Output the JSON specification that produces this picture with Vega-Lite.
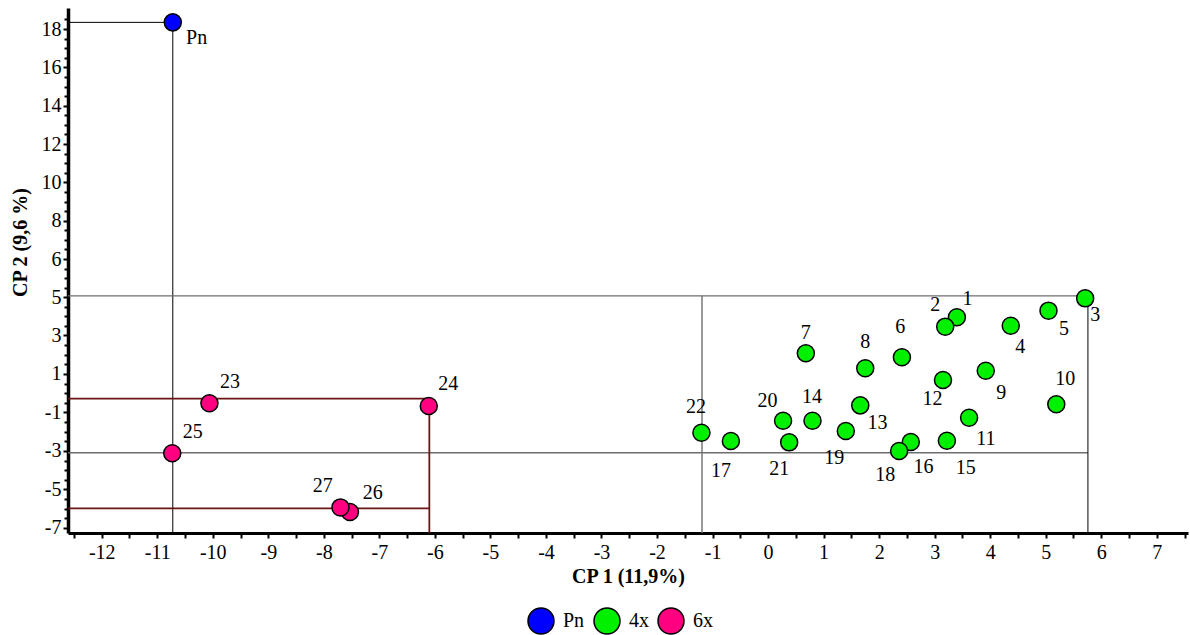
{
  "$schema": "https://vega.github.io/schema/vega-lite/v6.json",
  "width": 1120,
  "height": 525,
  "autosize": {"type": "none"},
  "padding": {"left": 68, "top": 8, "right": 2, "bottom": 102},
  "background": "white",
  "config": {
    "view": {"stroke": null},
    "font": "Liberation Serif",
    "axis": {
      "grid": false,
      "domainColor": "black",
      "tickColor": "black",
      "labelColor": "black",
      "titleColor": "black",
      "labelFont": "Liberation Serif",
      "titleFont": "Liberation Serif",
      "labelFontSize": 20,
      "titleFontSize": 20,
      "titleFontWeight": "bold",
      "labelOverlap": false,
      "labelFlush": false,
      "labelBound": false,
      "tickCount": 200
    },
    "legend": {
      "labelFont": "Liberation Serif",
      "labelFontSize": 20,
      "labelColor": "black"
    }
  },
  "datasets": {
    "genotypes": [
      {"id": "Pn", "group": "Pn", "x": -10.72, "y": 18.35, "lx": -10.29, "ly": 17.51},
      {"id": "1", "group": "4x", "x": 3.40, "y": 3.95, "lx": 3.59, "ly": 4.88},
      {"id": "2", "group": "4x", "x": 3.19, "y": 3.46, "lx": 3.01, "ly": 4.57},
      {"id": "3", "group": "4x", "x": 5.71, "y": 4.93, "lx": 5.89, "ly": 4.06},
      {"id": "4", "group": "4x", "x": 4.37, "y": 3.51, "lx": 4.54, "ly": 2.42},
      {"id": "5", "group": "4x", "x": 5.05, "y": 4.29, "lx": 5.33, "ly": 3.32},
      {"id": "6", "group": "4x", "x": 2.41, "y": 1.87, "lx": 2.38, "ly": 3.46},
      {"id": "7", "group": "4x", "x": 0.68, "y": 2.08, "lx": 0.68, "ly": 3.11},
      {"id": "8", "group": "4x", "x": 1.75, "y": 1.30, "lx": 1.75, "ly": 2.68},
      {"id": "9", "group": "4x", "x": 3.92, "y": 1.17, "lx": 4.20, "ly": 0.03},
      {"id": "10", "group": "4x", "x": 5.19, "y": -0.57, "lx": 5.35, "ly": 0.76},
      {"id": "11", "group": "4x", "x": 3.62, "y": -1.27, "lx": 3.92, "ly": -2.38},
      {"id": "12", "group": "4x", "x": 3.15, "y": 0.69, "lx": 2.96, "ly": -0.30},
      {"id": "13", "group": "4x", "x": 1.66, "y": -0.63, "lx": 1.97, "ly": -1.56},
      {"id": "14", "group": "4x", "x": 0.80, "y": -1.43, "lx": 0.79, "ly": -0.18},
      {"id": "15", "group": "4x", "x": 3.22, "y": -2.47, "lx": 3.56, "ly": -3.87},
      {"id": "16", "group": "4x", "x": 2.57, "y": -2.53, "lx": 2.80, "ly": -3.82},
      {"id": "17", "group": "4x", "x": -0.67, "y": -2.48, "lx": -0.85, "ly": -4.02},
      {"id": "18", "group": "4x", "x": 2.36, "y": -3.00, "lx": 2.11, "ly": -4.25},
      {"id": "19", "group": "4x", "x": 1.40, "y": -1.96, "lx": 1.19, "ly": -3.35},
      {"id": "20", "group": "4x", "x": 0.27, "y": -1.43, "lx": -0.01, "ly": -0.39},
      {"id": "21", "group": "4x", "x": 0.38, "y": -2.55, "lx": 0.20, "ly": -3.94},
      {"id": "22", "group": "4x", "x": -1.20, "y": -2.05, "lx": -1.30, "ly": -0.73},
      {"id": "23", "group": "6x", "x": -10.06, "y": -0.52, "lx": -9.69, "ly": 0.60},
      {"id": "24", "group": "6x", "x": -6.11, "y": -0.66, "lx": -5.76, "ly": 0.48},
      {"id": "25", "group": "6x", "x": -10.73, "y": -3.12, "lx": -10.36, "ly": -2.03},
      {"id": "26", "group": "6x", "x": -7.53, "y": -6.17, "lx": -7.12, "ly": -5.20},
      {"id": "27", "group": "6x", "x": -7.70, "y": -5.93, "lx": -8.02, "ly": -4.80}
    ],
    "guides": [
      {"x": -12.607, "x2": -10.72, "y": 18.35, "y2": 18.35, "kind": "black"},
      {"x": -10.72, "x2": -10.72, "y": 18.35, "y2": -7.26, "kind": "black"},
      {"x": -12.607, "x2": 5.8, "y": 5.03, "y2": 5.03, "kind": "grey"},
      {"x": -12.607, "x2": 5.76, "y": -3.09, "y2": -3.09, "kind": "grey"},
      {"x": -1.19, "x2": -1.19, "y": 5.03, "y2": -7.26, "kind": "grey"},
      {"x": 5.76, "x2": 5.76, "y": 5.03, "y2": -7.26, "kind": "black"},
      {"x": -12.607, "x2": -6.1, "y": -0.28, "y2": -0.28, "kind": "maroon"},
      {"x": -12.607, "x2": -6.1, "y": -5.98, "y2": -5.98, "kind": "maroon"},
      {"x": -6.1, "x2": -6.1, "y": -0.28, "y2": -7.26, "kind": "maroon"}
    ]
  },
  "layer": [
    {
      "data": {"name": "guides"},
      "mark": {"type": "rule"},
      "encoding": {
        "x": {
          "field": "x", "type": "quantitative",
          "scale": {"domain": [-12.607, 7.562], "nice": false, "zero": false},
          "axis": {
            "title": "CP 1 (11,9%)",
            "values": [-12.5, -12, -11.5, -11, -10.5, -10, -9.5, -9, -8.5, -8, -7.5, -7, -6.5, -6, -5.5, -5, -4.5, -4, -3.5, -3, -2.5, -2, -1.5, -1, -0.5, 0, 0.5, 1, 1.5, 2, 2.5, 3, 3.5, 4, 4.5, 5, 5.5, 6, 6.5, 7, 7.5],
            "tickCount": 200,
            "labelExpr": "indexof([-12, -11, -10, -9, -8, -7, -6, -5, -4, -3, -2, -1, 0, 1, 2, 3, 4, 5, 6, 7], datum.value) >= 0 ? '' + datum.value : ''",
            "domainWidth": 3,
            "tickWidth": 2,
            "tickSize": 5,
            "labelPadding": 4,
            "titlePadding": 4
          }
        },
        "x2": {"field": "x2"},
        "y": {
          "field": "y", "type": "quantitative",
          "scale": {"domain": [-7.26, 5, 6, 19.1], "range": [525, 289, 251, 0], "nice": false, "zero": false},
          "axis": {
            "title": "CP 2 (9,6 %)",
            "values": [18.5, 18, 17.5, 17, 16.5, 16, 15.5, 15, 14.5, 14, 13.5, 13, 12.5, 12, 11.5, 11, 10.5, 10, 9.5, 9, 8.5, 8, 7.5, 7, 6.5, 6, 5.75, 5.5, 5.25, 5, 4.5, 4, 3.5, 3, 2.5, 2, 1.5, 1, 0.5, 0, -0.5, -1, -1.5, -2, -2.5, -3, -3.5, -4, -4.5, -5, -5.5, -6, -6.5, -7],
            "tickCount": 200,
            "labelExpr": "indexof([18, 16, 14, 12, 10, 8, 6, 5, 3, 1, -1, -3, -5, -7], datum.value) >= 0 ? '' + datum.value : ''",
            "domainWidth": 3.5,
            "tickWidth": 2,
            "tickSize": {"condition": {"test": "indexof([18, 16, 14, 12, 10, 8, 6, 5, 3, 1, -1, -3, -5, -7], datum.value) >= 0", "value": 5}, "value": 4},
            "labelPadding": 2,
            "titleAngle": -90,
            "titleBaseline": "bottom",
            "titleX": -38,
            "titleY": 234
          }
        },
        "y2": {"field": "y2"},
        "stroke": {
          "field": "kind", "type": "nominal",
          "scale": {"domain": ["black", "grey", "maroon"], "range": ["#000000", "#6e6e6e", "#6b1515"]},
          "legend": null
        },
        "strokeWidth": {
          "field": "kind", "type": "nominal",
          "scale": {"domain": ["black", "grey", "maroon"], "range": [1, 1.8, 1]},
          "legend": null
        }
      }
    },
    {
      "data": {"name": "genotypes"},
      "mark": {"type": "point", "shape": "circle", "filled": true, "size": 290, "stroke": "black", "strokeWidth": 1.5, "opacity": 1},
      "encoding": {
        "x": {"field": "x", "type": "quantitative"},
        "y": {"field": "y", "type": "quantitative"},
        "fill": {
          "field": "group", "type": "nominal",
          "scale": {"domain": ["Pn", "4x", "6x"], "range": ["#0000ff", "#00f000", "#ff0080"]},
          "legend": {
            "title": null,
            "orient": "none",
            "direction": "horizontal",
            "legendX": 459,
            "legendY": 599,
            "symbolType": "circle",
            "symbolSize": 676,
            "symbolStrokeColor": "black",
            "symbolStrokeWidth": 1.5,
            "symbolOpacity": 1,
            "labelOffset": 8,
            "columnPadding": 6
          }
        }
      }
    },
    {
      "data": {"name": "genotypes"},
      "mark": {"type": "text", "font": "Liberation Serif", "fontSize": 20, "color": "black", "align": "center", "baseline": "middle"},
      "encoding": {
        "x": {"field": "lx", "type": "quantitative"},
        "y": {"field": "ly", "type": "quantitative"},
        "text": {"field": "id"}
      }
    }
  ]
}
